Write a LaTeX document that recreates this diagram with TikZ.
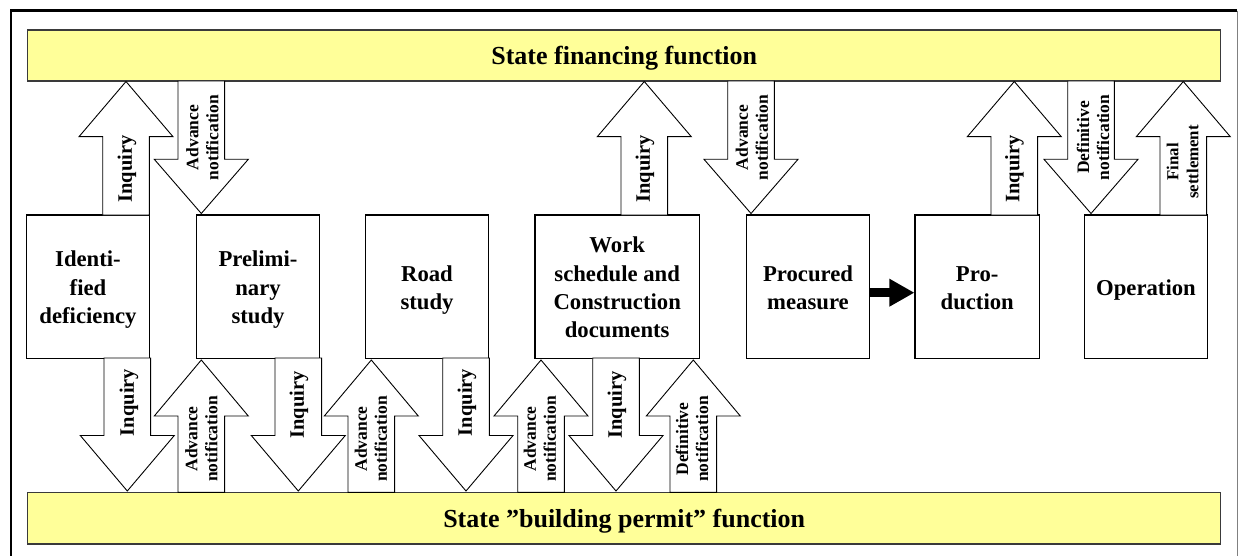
\documentclass[tikz,border=0pt]{standalone}
\usepackage{fontspec}
\setmainfont{Liberation Serif}
\usetikzlibrary{arrows.meta}
\definecolor{baryellow}{HTML}{FFFF99}
\definecolor{barline}{HTML}{3A3A3A}
\newcommand{\blockarr}[4]{%
  \draw[blockarrow] (#1-23.3,#4) -- (#1-23.3,#3) -- (#1-47,#3) -- (#1,#2) -- (#1+47,#3) -- (#1+23.3,#3) -- (#1+23.3,#4) -- cycle;}
\newcommand{\firstln}[1]{\raisebox{0pt}[17pt][\depth]{#1}}
\newcommand{\lastln}[1]{\raisebox{0pt}[\height][0pt]{#1}}
\newcommand{\onlyln}[1]{\raisebox{0pt}[17pt][0pt]{#1}}
\tikzset{
  bar/.style={draw=barline, fill=baryellow, line width=1.4pt, minimum width=1193pt,
    minimum height=51pt, inner sep=0pt, font=\fontsize{26pt}{30pt}\selectfont\bfseries,
    text height=19pt, text depth=0pt},
  stage/.style={draw=black, fill=white, line width=1.2pt, minimum height=143.3pt,
    minimum width=123pt, inner sep=0pt, align=center,
    font=\fontsize{22.7pt}{28.3pt}\selectfont\bfseries},
  blockarrow/.style={draw=black, fill=white, line width=0.9pt, line join=miter},
  inq/.style={rotate=90, inner sep=0pt, font=\fontsize{20.5pt}{24pt}\selectfont\bfseries},
  notif/.style={rotate=90, inner sep=0pt, align=center, font=\fontsize{17.5pt}{20pt}\selectfont\bfseries},
  settle/.style={rotate=90, inner sep=0pt, align=center, font=\fontsize{16.8pt}{20pt}\selectfont\bfseries},
  flow/.style={-{Triangle[length=25pt,width=26pt]}, line width=8.5pt, draw=black},
  frameline/.style={line width=2.7pt, draw=black},
}
\begin{document}
\begin{tikzpicture}[x=1pt,y=-1pt]
\useasboundingbox (0,0) rectangle (1238,556);
% outer frame
\coordinate (fbl) at (11,560);
\coordinate (ftl) at (11,10.7);
\coordinate (ftr) at (1237,10.7);
\coordinate (fbr) at (1237,560);
\draw[frameline] (fbl) -- (ftl) -- (ftr);
\draw[gray, line width=0.8pt] (ftr) -- (fbr);
% bars
\node[bar] (fin) at (624.2,55.5) {State financing function};
\node[bar, minimum height=51.7pt] (permit) at (624.2,518.2) {State ”building permit” function};
% stages
\node[stage] (b1) at (88,286.7) {\firstln{Identi-}\\fied\\\lastln{deficiency}};
\node[stage] (b2) at (258,286.7) {\firstln{Prelimi-}\\nary\\\lastln{study}};
\node[stage] (b3) at (427,286.7) {\firstln{Road}\\\lastln{study}};
\node[stage, minimum width=164.3pt] (b4) at (617.2,286.7) {\firstln{Work}\\schedule and\\Construction\\\lastln{documents}};
\node[stage] (b5) at (808,286.7) {\firstln{Procured}\\\lastln{measure}};
\node[stage, minimum width=124.3pt] (b6) at (977.2,286.7) {\firstln{Pro-}\\\lastln{duction}};
\node[stage, minimum width=123.4pt] (b7) at (1146,286.7) {\onlyln{Operation}};
% flow arrow
\draw[flow] ([yshift=-6pt]b5.east) -- ([yshift=-6pt]b6.west);
% top block arrows
\blockarr{126}{81.5}{136.7}{215}
\blockarr{201.3}{213.5}{159.3}{81}
\blockarr{644.3}{81.5}{136.7}{215}
\blockarr{751}{213.5}{159.3}{81}
\blockarr{1014.3}{81.5}{136.7}{215}
\blockarr{1091}{213.5}{159.3}{81}
\blockarr{1183.3}{81.5}{136.7}{215}
% bottom block arrows
\blockarr{127.3}{491}{435.5}{358}
\blockarr{201.3}{360}{416}{492.3}
\blockarr{298.3}{491}{435.5}{358}
\blockarr{371.3}{360}{416}{492.3}
\blockarr{466}{491}{435.5}{358}
\blockarr{541}{360}{416}{492.3}
\blockarr{616}{491}{435.5}{358}
\blockarr{693.3}{360}{416}{492.3}
% labels top
\node[inq] (la1) at (127,169) {Inquiry};
\node[notif] (la2) at (202.5,137.5) {Advance\\notification};
\node[inq] (la3) at (645,169) {Inquiry};
\node[notif] (la4) at (752,137.5) {Advance\\notification};
\node[inq] (la5) at (1014.5,169) {Inquiry};
\node[notif] (la6) at (1093,137.5) {Definitive\\notification};
\node[settle] (la7) at (1182.5,162) {Final\\settlement};
% labels bottom
\node[inq] (lb1) at (129,402.5) {Inquiry};
\node[notif] (lb2) at (201.5,439) {Advance\\notification};
\node[inq] (lb3) at (299,405) {Inquiry};
\node[notif] (lb4) at (371,439) {Advance\\notification};
\node[inq] (lb5) at (467,402.5) {Inquiry};
\node[notif] (lb6) at (540,439) {Advance\\notification};
\node[inq] (lb7) at (617,405) {Inquiry};
\node[notif] (lb8) at (692,439) {Definitive\\notification};
\end{tikzpicture}
\end{document}
